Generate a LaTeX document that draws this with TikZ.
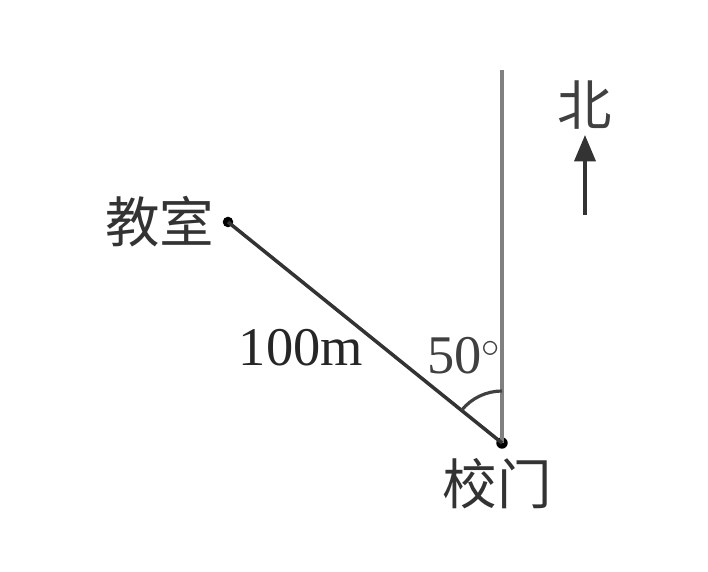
\documentclass[tikz,border=0pt]{standalone}
\usepackage{fontspec}
\setmainfont{Liberation Serif}
\newfontfamily\cjk{Noto Sans CJK SC}
\usetikzlibrary{arrows.meta, positioning, calc}

\begin{document}
\begin{tikzpicture}[x=1cm,y=1cm]
\useasboundingbox (0,0) rectangle (14.16,11.42);
\fontsize{31}{36}\selectfont
% points
\coordinate (top) at (10.04,10.02);
\node[circle,fill=black,inner sep=0pt,minimum size=6.5pt](gate) at (10.04,2.56){};
\node[circle,fill=black,inner sep=0pt,minimum size=6pt](room) at (4.56,6.98){};
% lines
\draw[line width=2.2pt,color=black!50] (gate.center) -- (top);
\draw[line width=2pt,color=black!80] (room.center) -- (gate.center);
\draw[line width=1.8pt,color=black!75] ($(gate.center)+(0,1.04)$) arc[start angle=90,end angle=141,radius=1.04];
% labels
\node[color=black!80](roomlabel) at (3.2,6.98){\cjk 教室};
\node[color=black!80](gatelabel) at (9.94,1.74){\cjk 校门};
\node[color=black!85](dist) at (6.02,4.46){100m};
\node[color=black!75](ang) at (9.28,4.3){50$^\circ$};
\node[color=black!75](north) at (11.7,9.32){\cjk 北};
\coordinate (nbot) at (11.7,7.12);
\draw[line width=2pt,color=black!80,-{Triangle[length=15pt,width=12pt]}] (nbot) -- (11.7,8.72) coordinate (ntip);
\end{tikzpicture}
\end{document}
